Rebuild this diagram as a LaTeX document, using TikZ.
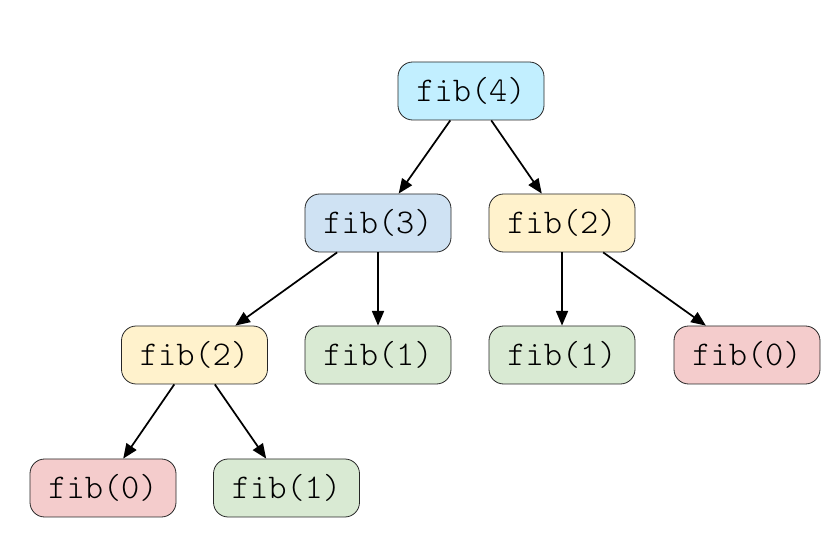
\documentclass[tikz,border=0pt]{standalone}
\usetikzlibrary{arrows.meta,positioning}
\definecolor{topc}{HTML}{C2EFFF}
\definecolor{blu}{HTML}{CFE2F3}
\definecolor{yel}{HTML}{FFF2CC}
\definecolor{grn}{HTML}{D9EAD3}
\definecolor{red}{HTML}{F4CCCC}
\tikzset{
  call/.style={draw=black!85,line width=0.6pt,rounded corners=11pt,minimum width=109.5pt,minimum height=43.5pt,inner sep=0pt,font=\fontsize{26}{28}\ttfamily\fontseries{l}\selectfont},
  arr/.style={-{Triangle[length=11pt,width=9pt]},line width=1.3pt}
}
\begin{document}
\begin{tikzpicture}[x=0.75pt,y=-0.75pt]
\useasboundingbox (0,0) rectangle (836,534);
\newcommand{\fn}[4]{\node[call,fill=#4] (#1) at (#2) {fib(#3)};}
\fn{f4}{471,91}{4}{topc}
\fn{f3}{378,223}{3}{blu}
\fn{f2r}{562,223}{2}{yel}
\fn{f2l}{194.5,355}{2}{yel}
\fn{f1a}{378,355}{1}{grn}
\fn{f1b}{562,355}{1}{grn}
\fn{f0a}{747,355}{0}{red}
\fn{f0b}{103,488}{0}{red}
\fn{f1c}{286.5,488}{1}{grn}
\draw[arr] (f4) -- (f3);
\draw[arr] (f4) -- (f2r);
\draw[arr] (f3) -- (f2l);
\draw[arr] (f3) -- (f1a);
\draw[arr] (f2r) -- (f1b);
\draw[arr] (f2r) -- (f0a);
\draw[arr] (f2l) -- (f0b);
\draw[arr] (f2l) -- (f1c);
\end{tikzpicture}
\end{document}
